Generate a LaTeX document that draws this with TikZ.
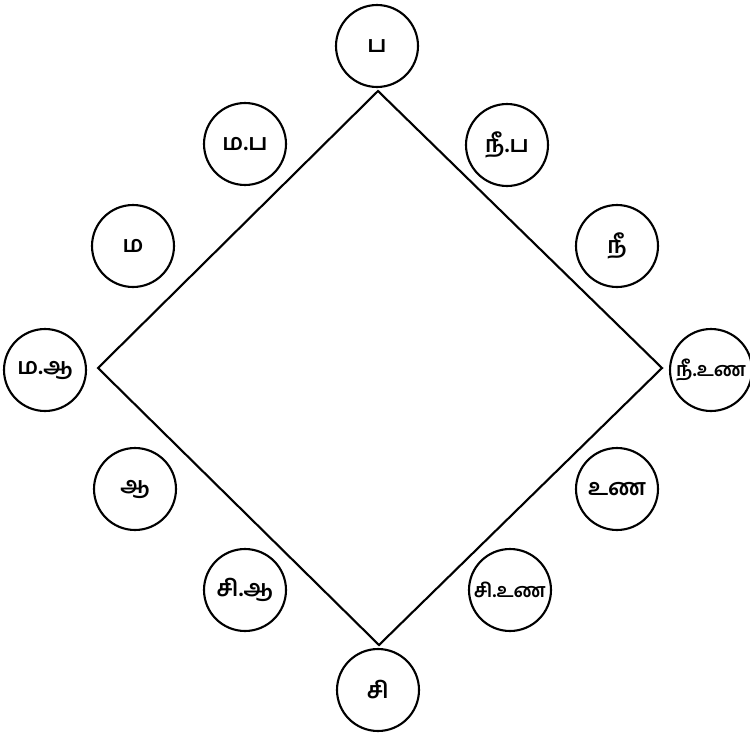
\documentclass[tikz,border=0pt]{standalone}
\usepackage{fontspec}
\newfontfamily\tamilfont[Script=Tamil]{Hind Madurai}
\usepackage{tikz}

\newcommand{\housetext}[1]{\makebox[0pt][c]{#1}}

\tikzset{
  house/.style={draw, circle, line width=1.2pt, minimum size=1.64cm, inner sep=0pt,
    font=\tamilfont\bfseries\fontsize{13}{15}\selectfont},
  widehouse/.style={house, font=\tamilfont\bfseries\fontsize{11}{13}\selectfont}
}

\begin{document}
\begin{tikzpicture}[x=0.02cm, y=-0.02cm]
\useasboundingbox (0,0) rectangle (750,737);

% Diamond corners
\coordinate (top) at (378,91);
\coordinate (right) at (662,368);
\coordinate (bottom) at (379,645);
\coordinate (left) at (98,368);

% Diamond
\draw[line width=1.2pt, line join=miter] (top) -- (right) -- (bottom) -- (left) -- cycle;

% Circles around the diamond
\node[house] (pa) at (377,46) {\housetext{ப}};
\node[house] (mapa) at (245,144) {\housetext{ம.ப}};
\node[house] (neepa) at (507,145) {\housetext{நீ.ப}};
\node[house] (ma) at (133,246) {\housetext{ம}};
\node[house] (nee) at (617,246) {\housetext{நீ}};
\node[house] (maaa) at (45,370) {\housetext{ம.ஆ}};
\node[widehouse] (neeun) at (711,370) {\housetext{நீ.உண}};
\node[house] (aa) at (135,489) {\housetext{ஆ}};
\node[house] (un) at (617,489) {\housetext{உண}};
\node[house] (siaa) at (245,590) {\housetext{சி.ஆ}};
\node[widehouse] (siun) at (510,590) {\housetext{சி.உண}};
\node[house] (si) at (378,690) {\housetext{சி}};

\end{tikzpicture}
\end{document}
